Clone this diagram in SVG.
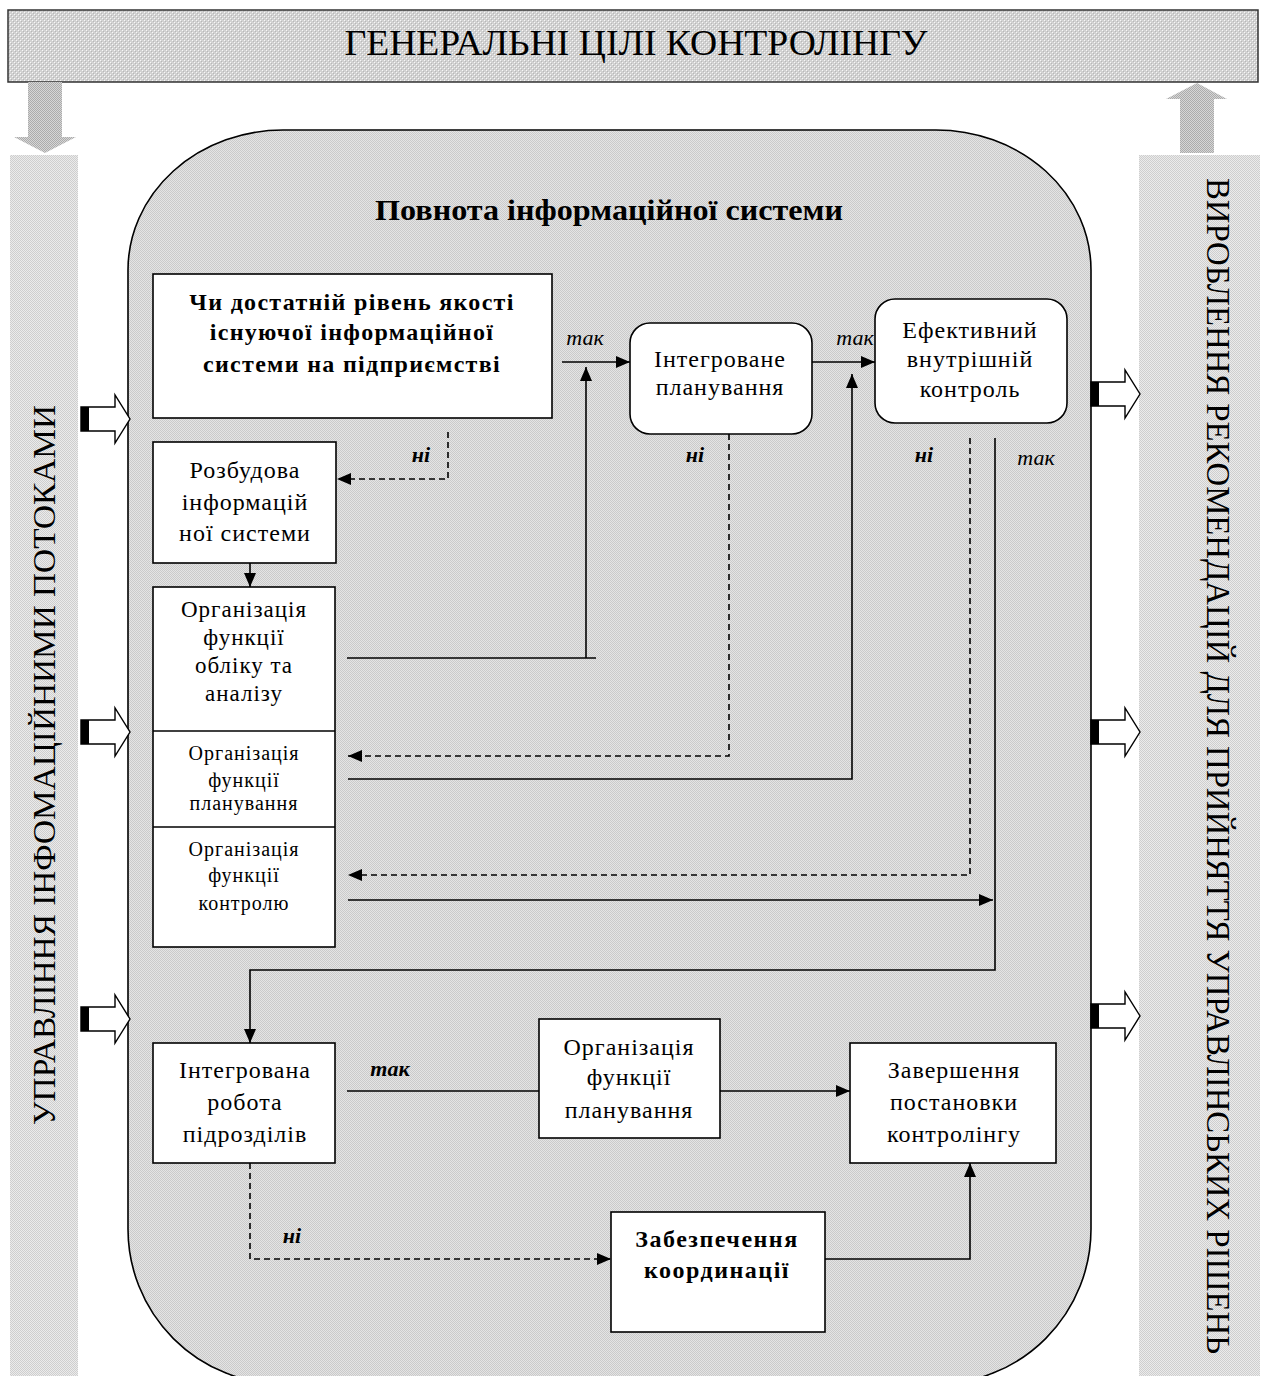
<svg xmlns="http://www.w3.org/2000/svg" width="1264" height="1376" viewBox="0 0 1264 1376">
<defs>
<pattern id="pBan" width="4" height="4" patternUnits="userSpaceOnUse">
<rect width="4" height="4" fill="#d2d2d2"/>
<rect x="0" y="0" width="1" height="1" fill="#f8f8f8"/>
<rect x="2" y="2" width="1" height="1" fill="#f8f8f8"/>
<rect x="1" y="1" width="1" height="1" fill="#b8b8b8"/>
<rect x="3" y="3" width="1" height="1" fill="#b8b8b8"/>
</pattern>
<pattern id="pCont" width="2" height="2" patternUnits="userSpaceOnUse">
<rect width="2" height="2" fill="#e4e4e4"/>
<rect x="0" y="0" width="1" height="1" fill="#cacaca"/>
<rect x="1" y="1" width="1" height="1" fill="#cacaca"/>
</pattern>
<pattern id="pCol" width="2" height="2" patternUnits="userSpaceOnUse">
<rect width="2" height="2" fill="#ebebeb"/>
<rect x="0" y="0" width="1" height="1" fill="#cecece"/>
<rect x="1" y="1" width="1" height="1" fill="#cecece"/>
</pattern>
<pattern id="pArr" width="2" height="2" patternUnits="userSpaceOnUse">
<rect width="2" height="2" fill="#d6d6d6"/>
<rect x="0" y="0" width="1" height="1" fill="#ababab"/>
<rect x="1" y="1" width="1" height="1" fill="#ababab"/>
</pattern>
<marker id="ah" markerUnits="userSpaceOnUse" markerWidth="14" markerHeight="12" refX="14" refY="6" orient="auto">
<path d="M0,0 L14,6 L0,12 Z" fill="#000"/>
</marker>
<g id="blk">
<path d="M0,-12 H34 V-24 L49,0 L34,24 V12 H0 Z" fill="#fff" stroke="#000" stroke-width="1.4"/>
<rect x="0" y="-12" width="8" height="24" fill="#000"/>
</g>
<style>
.box{fill:#fff;stroke:#000;stroke-width:1.6}
.ln{fill:none;stroke:#000;stroke-width:1.6}
.ar{marker-end:url(#ah)}
.da{stroke-dasharray:6 4}
.t{font-family:"Liberation Serif","Times New Roman",serif;font-size:24px;text-anchor:middle;fill:#000}
.n{letter-spacing:1px}
.s{font-size:20px;letter-spacing:1px}
.b{font-weight:bold;letter-spacing:1.3px}
.i{font-style:italic}
.lab{font-size:22px;letter-spacing:0}
</style>
</defs>

<g id="banner">
<rect x="8" y="10" width="1250" height="72" fill="url(#pBan)" stroke="#333" stroke-width="1.5"/>
<text class="t" x="636" y="55" style="font-size:35px" textLength="583" lengthAdjust="spacingAndGlyphs">ГЕНЕРАЛЬНІ ЦІЛІ КОНТРОЛІНГУ</text>
</g>

<g id="downArrow">
<path d="M28,82 H62 V137 H76 L45,153 L14,137 H28 Z" fill="url(#pArr)"/>
</g>
<g id="upArrow">
<path d="M1180,153 H1214 V99 H1227 L1197,83 L1166,99 H1180 Z" fill="url(#pArr)"/>
</g>

<g id="leftColumn">
<rect x="10" y="155" width="68" height="1221" fill="url(#pCol)"/>
<text class="t" style="font-size:32px" transform="translate(55,765) rotate(-90)" textLength="720" lengthAdjust="spacingAndGlyphs">УПРАВЛІННЯ ІНФОМАЦІЙНИМИ ПОТОКАМИ</text>
</g>

<g id="rightColumn">
<rect x="1139" y="155" width="121" height="1221" fill="url(#pCol)"/>
<text class="t" style="font-size:33px" transform="translate(1207,766) rotate(90)" textLength="1176" lengthAdjust="spacingAndGlyphs">ВИРОБЛЕННЯ РЕКОМЕНДАЦІЙ ДЛЯ ПРИЙНЯТТЯ УПРАВЛІНСЬКИХ РІШЕНЬ</text>
</g>

<g id="container">
<path d="M283,130 H936 A155,140 0 0 1 1091,270 V1229 A155,155 0 0 1 936,1384 H283 A155,155 0 0 1 128,1229 V270 A155,140 0 0 1 283,130 Z" fill="url(#pCont)" stroke="#000" stroke-width="1.6"/>
<text class="t b" x="609" y="220" style="font-size:29px;letter-spacing:0" textLength="468" lengthAdjust="spacingAndGlyphs">Повнота інформаційної системи</text>
</g>

<g id="inArrows">
<use href="#blk" x="81" y="419"/>
<use href="#blk" x="81" y="732"/>
<use href="#blk" x="81" y="1019"/>
</g>
<g id="outArrows">
<use href="#blk" x="1091" y="394"/>
<use href="#blk" x="1091" y="732"/>
<use href="#blk" x="1091" y="1016"/>
</g>

<g id="connectors">
<path class="ln da ar" d="M448,432 V479 H337"/>
<path class="ln ar" d="M250,563 V587"/>
<path class="ln" d="M347,658 H596"/>
<path class="ln ar" d="M586,658 V367"/>
<path class="ln ar" d="M562,362 H630"/>
<path class="ln ar" d="M812,362 H875"/>
<path class="ln da ar" d="M729,424 V756 H348"/>
<path class="ln ar" d="M348,779 H852 V374"/>
<path class="ln da ar" d="M970,438 V875 H348"/>
<path class="ln ar" d="M348,900 H993"/>
<path class="ln ar" d="M995,438 V970 H250 V1043"/>
<path class="ln" d="M347,1091 H539"/>
<path class="ln ar" d="M720,1091 H850"/>
<path class="ln da ar" d="M250,1163 V1259 H611"/>
<path class="ln ar" d="M825,1259 H970 V1163"/>
<text class="t i lab" x="585" y="345">так</text>
<text class="t i lab" x="855" y="345">так</text>
<text class="t b i lab" x="421" y="462">ні</text>
<text class="t b i lab" x="695" y="462">ні</text>
<text class="t b i lab" x="924" y="462">ні</text>
<text class="t i lab" x="1036" y="465">так</text>
<text class="t b i lab" x="390" y="1076">так</text>
<text class="t b i lab" x="292" y="1243">ні</text>
</g>

<g id="n-quality">
<rect class="box" x="153" y="274" width="399" height="144"/>
<text class="t b" x="352" y="310">Чи достатній рівень якості</text>
<text class="t b" x="352" y="340">існуючої інформаційної</text>
<text class="t b" x="352" y="372">системи на підприємстві</text>
</g>

<g id="n-develop">
<rect class="box" x="153" y="442" width="183" height="121"/>
<text class="t n" x="245" y="478">Розбудова</text>
<text class="t n" x="245" y="510">інформацій</text>
<text class="t n" x="245" y="541">ної системи</text>
</g>

<g id="n-org">
<rect class="box" x="153" y="587" width="182" height="360"/>
<line class="ln" x1="153" y1="731" x2="335" y2="731"/>
<line class="ln" x1="153" y1="827" x2="335" y2="827"/>
</g>
<g id="n-org-account">
<text class="t n" x="244" y="617" style="font-size:23px">Організація</text>
<text class="t n" x="244" y="645" style="font-size:23px">функції</text>
<text class="t n" x="244" y="673" style="font-size:23px">обліку та</text>
<text class="t n" x="244" y="701" style="font-size:23px">аналізу</text>
</g>
<g id="n-org-plan">
<text class="t s" x="244" y="760">Організація</text>
<text class="t s" x="244" y="787">функції</text>
<text class="t s" x="244" y="810">планування</text>
</g>
<g id="n-org-control">
<text class="t s" x="244" y="856">Організація</text>
<text class="t s" x="244" y="882">функції</text>
<text class="t s" x="244" y="910">контролю</text>
</g>

<g id="n-intplan">
<rect class="box" x="630" y="323" width="182" height="111" rx="20" ry="20"/>
<text class="t n" x="720" y="367">Інтегроване</text>
<text class="t n" x="720" y="395">планування</text>
</g>

<g id="n-effective">
<rect class="box" x="875" y="299" width="192" height="124" rx="20" ry="20"/>
<text class="t n" x="970" y="338">Ефективний</text>
<text class="t n" x="970" y="367">внутрішній</text>
<text class="t n" x="970" y="397">контроль</text>
</g>

<g id="n-intwork">
<rect class="box" x="153" y="1043" width="182" height="120"/>
<text class="t n" x="245" y="1078">Інтегрована</text>
<text class="t n" x="245" y="1110">робота</text>
<text class="t n" x="245" y="1142">підрозділів</text>
</g>

<g id="n-orgplan2">
<rect class="box" x="539" y="1019" width="181" height="119"/>
<text class="t n" x="629" y="1055">Організація</text>
<text class="t n" x="629" y="1085">функції</text>
<text class="t n" x="629" y="1118">планування</text>
</g>

<g id="n-finish">
<rect class="box" x="850" y="1043" width="206" height="120"/>
<text class="t n" x="954" y="1078">Завершення</text>
<text class="t n" x="954" y="1110">постановки</text>
<text class="t n" x="954" y="1142">контролінгу</text>
</g>

<g id="n-coord">
<rect class="box" x="611" y="1212" width="214" height="120"/>
<text class="t b" x="717" y="1247" style="letter-spacing:1.5px">Забезпечення</text>
<text class="t b" x="717" y="1278" style="letter-spacing:1.5px">координації</text>
</g>
</svg>
